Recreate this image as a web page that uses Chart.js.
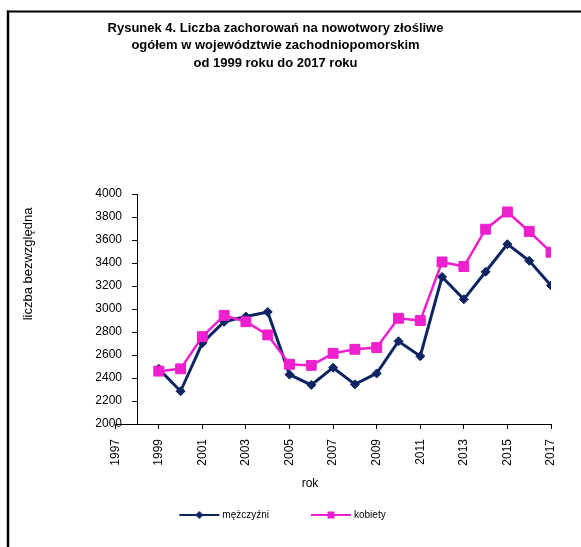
<!DOCTYPE html>
<html lang="pl">
<head>
<meta charset="utf-8">
<title>Rysunek 4</title>
<script src="https://cdn.jsdelivr.net/npm/chart.js@4.4.1/dist/chart.umd.min.js"></script>
<style>
  html, body { margin: 0; padding: 0; background: #fff; }
  canvas { display: block; }
</style>
</head>
<body>
<canvas id="chart" width="581" height="547"></canvas>
<script>
// --- data ---
const YEARS = [1999, 2000, 2001, 2002, 2003, 2004, 2005, 2006, 2007, 2008,
               2009, 2010, 2011, 2012, 2013, 2014, 2015, 2016, 2017];
const MEN   = [2480, 2285, 2705, 2890, 2935, 2975, 2430, 2340, 2490, 2345,
               2440, 2720, 2590, 3280, 3085, 3325, 3565, 3420, 3205];
const WOMEN = [2460, 2480, 2760, 2945, 2890, 2775, 2520, 2510, 2615, 2650,
               2665, 2920, 2900, 3410, 3370, 3695, 3845, 3675, 3495];
const X_TICKS = [1997, 1999, 2001, 2003, 2005, 2007, 2009, 2011, 2013, 2015, 2017];
const Y_TICKS = [2000, 2200, 2400, 2600, 2800, 3000, 3200, 3400, 3600, 3800, 4000];
const SERIES_NAMES = ['mężczyźni', 'kobiety'];
const X_TITLE = 'rok';
const Y_TITLE = 'liczba bezwzględna';
const TITLE_LINES = [
  'Rysunek 4. Liczba zachorowań na nowotwory złośliwe',
  'ogółem w województwie zachodniopomorskim',
  'od 1999 roku do 2017 roku'
];

const NAVY = '#0c2461';
const MAGENTA = '#ee1fcc';
const FONT = "'Liberation Sans', Arial, sans-serif";

Chart.defaults.font.family = FONT;
Chart.defaults.color = '#000';

// legend symbol: short line with the marker in the middle
function legendIcon(color, shape) {
  const c = document.createElement('canvas');
  c.width = 60; c.height = 12;
  const g = c.getContext('2d');
  g.strokeStyle = color; g.fillStyle = color; g.lineWidth = 2;
  g.beginPath(); g.moveTo(18, 6); g.lineTo(58, 6); g.stroke();
  g.beginPath();
  if (shape === 'diamond') {
    g.moveTo(38, 2); g.lineTo(42, 6); g.lineTo(38, 10); g.lineTo(34, 6); g.closePath();
  } else {
    g.rect(34.5, 2.5, 7, 7);
  }
  g.fill();
  return c;
}
const ICONS = [legendIcon(NAVY, 'diamond'), legendIcon(MAGENTA, 'square')];

// outer frame (left + top border of the figure)
const framePlugin = {
  id: 'frame',
  beforeDraw(chart) {
    const c = chart.ctx;
    c.save();
    c.fillStyle = '#fff';
    c.fillRect(0, 0, chart.width, chart.height);
    c.strokeStyle = '#000';
    c.lineWidth = 2.5;
    c.beginPath(); c.moveTo(8, chart.height); c.lineTo(8, 10.5); c.stroke();
    c.lineWidth = 2;
    c.beginPath(); c.moveTo(7, 11.5); c.lineTo(chart.width, 11.5); c.stroke();
    c.restore();
  }
};

// axis titles placed like in the Excel original + the bit of x axis left of the value axis
const axisTitlePlugin = {
  id: 'axisTitles',
  afterDraw(chart) {
    const c = chart.ctx;
    const area = chart.chartArea;
    const x0 = chart.scales.x.getPixelForValue(X_TICKS[0]);
    c.save();
    c.strokeStyle = '#000';
    c.lineWidth = 1;
    c.beginPath(); c.moveTo(x0, Math.round(area.bottom) + 0.5); c.lineTo(area.left, Math.round(area.bottom) + 0.5); c.stroke();
    c.fillStyle = '#000';
    c.textAlign = 'center';
    c.textBaseline = 'middle';
    c.font = '12px ' + FONT;
    c.fillText(X_TITLE, 310, 484);
    c.translate(28, 264);
    c.rotate(-Math.PI / 2);
    c.font = '13px ' + FONT;
    c.fillText(Y_TITLE, 0, 0);
    c.restore();
  }
};

const toPoints = vals => YEARS.map((yr, i) => ({ x: yr, y: vals[i] }));

new Chart(document.getElementById('chart'), {
  type: 'line',
  data: {
    datasets: [{
      label: SERIES_NAMES[0],
      data: toPoints(MEN),
      borderColor: NAVY,
      backgroundColor: NAVY,
      borderWidth: 3,
      pointStyle: 'rectRot',
      pointRadius: 4.5,
      pointBorderWidth: 1,
      order: 1
    }, {
      label: SERIES_NAMES[1],
      data: toPoints(WOMEN),
      borderColor: MAGENTA,
      backgroundColor: MAGENTA,
      borderWidth: 2.5,
      pointStyle: 'rect',
      pointRadius: 7,
      pointBorderWidth: 1,
      order: 0
    }]
  },
  options: {
    responsive: false,
    animation: false,
    devicePixelRatio: 1,
    layout: { padding: { left: 0, right: 30, top: 0, bottom: 17 } },
    elements: { line: { tension: 0 } },
    scales: {
      x: {
        type: 'linear',
        position: 'bottom',
        // the value axis crosses at 1998, the first year label sits one year before it
        min: 1998, max: 2017,
        afterBuildTicks: s => { s.ticks = X_TICKS.map(v => ({ value: v })); },
        afterFit: s => { s.height = 58; },
        ticks: {
          autoSkip: false, minRotation: 90, maxRotation: 90, padding: 10,
          font: { size: 12 }, color: '#000',
          callback: v => String(v)
        },
        grid: { display: true, drawOnChartArea: false, drawTicks: true, tickLength: 5, color: '#000' },
        border: { display: true, color: '#000', width: 1 }
      },
      y: {
        type: 'linear',
        position: 'left',
        min: 2000, max: 4000,
        afterBuildTicks: s => { s.ticks = Y_TICKS.map(v => ({ value: v })); },
        afterFit: s => { s.width = 137; },
        ticks: { padding: 10, font: { size: 12 }, color: '#000', callback: v => String(v) },
        grid: { display: true, drawOnChartArea: false, drawTicks: true, tickLength: 5, color: '#000' },
        border: { display: true, color: '#000', width: 1 }
      }
    },
    plugins: {
      title: {
        display: true,
        text: TITLE_LINES,
        color: '#000',
        font: { size: 13, weight: 'bold', lineHeight: 1.35 },
        padding: { top: 19.25, bottom: 122.25 }
      },
      legend: {
        position: 'bottom',
        labels: {
          usePointStyle: true,
          pointStyleWidth: 52,
          padding: 28,
          color: '#222',
          font: { size: 10 },
          generateLabels: chart => chart.data.datasets.map((ds, i) => ({
            text: ds.label,
            pointStyle: ICONS[i],
            fillStyle: ds.borderColor,
            strokeStyle: ds.borderColor,
            lineWidth: 0,
            hidden: false,
            datasetIndex: i
          }))
        }
      },
      tooltip: { enabled: false }
    }
  },
  plugins: [framePlugin, axisTitlePlugin]
});
</script>
</body>
</html>
